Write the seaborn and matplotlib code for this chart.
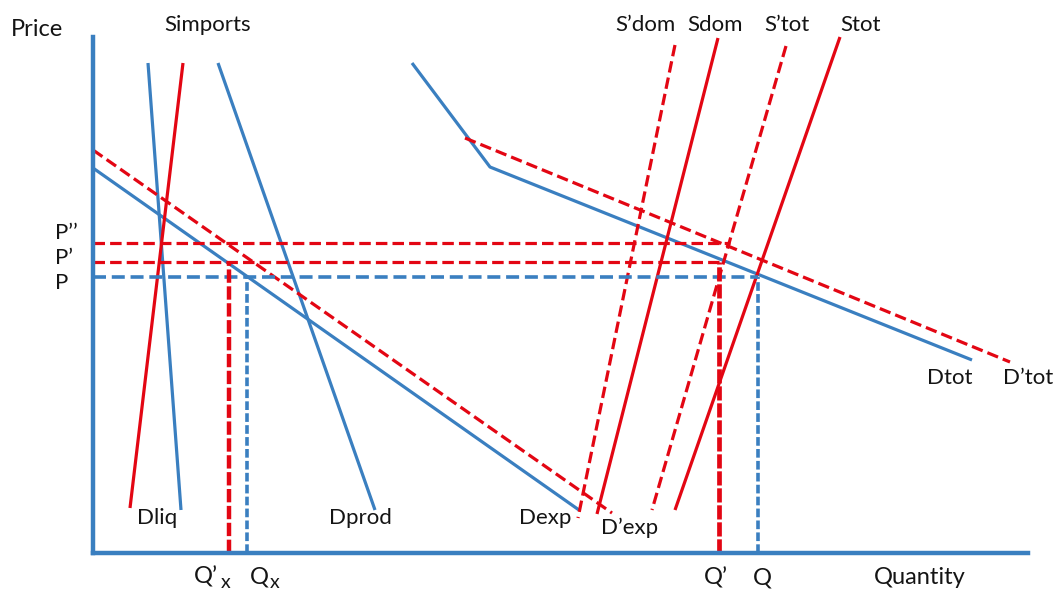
import pandas as pd
import matplotlib
matplotlib.use("Agg")
import matplotlib.pyplot as plt
import seaborn as sns

# curve endpoints in (quantity, price) units, origin at axes corner
dliq_q = [55, 88]
dliq_p = [490, 43]
dprod_q = [125, 282]
dprod_p = [490, 43]
dexp_q = [0, 486]
dexp_p = [385, 43]
dtot_q = [319, 397, 879]
dtot_p = [490, 386, 193]

simp_q = [90, 37]
simp_p = [490, 45]
sdom_q = [625, 504]
sdom_p = [515, 39]
stot_q = [747, 582]
stot_p = [516, 43]

sdom2_q = [582, 485]
sdom2_p = [508, 35]
stot2_q = [693, 559]
stot2_p = [507, 43]
dexp2_q = [0, 519]
dexp2_p = [403, 40]
dtot2_q = [372, 917]
dtot2_p = [415, 191]

# equilibrium levels
price_levels = {"P": 276, "P’": 291, "P’’": 310}
qty_levels = {"Q’x": 136, "Qx": 154, "Q’": 626, "Q": 665}

BLUE = "#3a7fc0"
RED = "#e30613"

sns.set_style("white")
plt.rcParams['font.family'] = ['Lato', 'DejaVu Sans']

fig = plt.figure(figsize=(10.53, 5.90), dpi=100)
ax = fig.add_axes([0, 0, 1, 1])
ax.set_xlim(-93, 960)
ax.set_ylim(-37, 553)


def draw(q, p, color, dashed=False, lw=2.3, dash=(3.6, 1.6)):
    d = pd.DataFrame({"q": q, "p": p})
    line = sns.lineplot(data=d, x="q", y="p", ax=ax, color=color, lw=lw,
                        sort=False, estimator=None)
    l = line.lines[-1]
    if dashed:
        l.set_dashes(dash)
    l.set_solid_capstyle("butt")


# demand curves (blue)
draw(dliq_q, dliq_p, BLUE)
draw(dprod_q, dprod_p, BLUE)
draw(dexp_q, dexp_p, BLUE)
draw(dtot_q, dtot_p, BLUE)

# supply curves (red)
draw(simp_q, simp_p, RED)
draw(sdom_q, sdom_p, RED)
draw(stot_q, stot_p, RED)

# shifted curves (red dashed)
draw(sdom2_q, sdom2_p, RED, dashed=True)
draw(stot2_q, stot2_p, RED, dashed=True)
draw(dexp2_q, dexp2_p, RED, dashed=True)
draw(dtot2_q, dtot2_p, RED, dashed=True)

# price guides
draw([0, 637], [price_levels["P’’"]] * 2, RED, dashed=True)
draw([0, 626], [price_levels["P’"]] * 2, RED, dashed=True)
draw([0, 665], [price_levels["P"]] * 2, BLUE, dashed=True, lw=2.6)

# quantity guides
draw([qty_levels["Q’x"]] * 2, [0, price_levels["P’"]], RED, dashed=True, lw=3.2, dash=(3, 0.8))
draw([qty_levels["Qx"]] * 2, [0, price_levels["P"]], BLUE, dashed=True, lw=2.6, dash=(2.4, 0.9))
draw([qty_levels["Q’"]] * 2, [0, price_levels["P’"]], RED, dashed=True, lw=3.4, dash=(3, 0.6))
draw([qty_levels["Q"]] * 2, [0, price_levels["P"]], BLUE, dashed=True, lw=2.6, dash=(2.4, 0.9))

# axes lines
for s in ["top", "right"]:
    ax.spines[s].set_visible(False)
for s in ["left", "bottom"]:
    ax.spines[s].set_position(("data", 0))
    ax.spines[s].set_color(BLUE)
    ax.spines[s].set_linewidth(3.2)
ax.spines["left"].set_bounds(0, 516)
ax.spines["bottom"].set_bounds(0, 935)
ax.set_xticks([])
ax.set_yticks([])
ax.set_xlabel("")
ax.set_ylabel("")

TXT = "#141414"
fs = 16
big = 17
ax.text(-56, 523, "Price", fontsize=big, color=TXT, ha="center", va="center")
ax.text(827, -25, "Quantity", fontsize=big, color=TXT, ha="center", va="center")
ax.text(115, 528, "Simports", fontsize=fs, color=TXT, ha="center", va="center")
ax.text(552, 528, "S’dom", fontsize=fs, color=TXT, ha="center", va="center")
ax.text(622, 528, "Sdom", fontsize=fs, color=TXT, ha="center", va="center")
ax.text(694, 528, "S’tot", fontsize=fs, color=TXT, ha="center", va="center")
ax.text(768, 528, "Stot", fontsize=fs, color=TXT, ha="center", va="center")
ax.text(-38, 320, "P’’", fontsize=fs, color=TXT, ha="left", va="center")
ax.text(-38, 295, "P’", fontsize=fs, color=TXT, ha="left", va="center")
ax.text(-38, 270, "P", fontsize=fs, color=TXT, ha="left", va="center")
ax.text(857, 175, "Dtot", fontsize=fs, color=TXT, ha="center", va="center")
ax.text(935, 175, "D’tot", fontsize=fs, color=TXT, ha="center", va="center")
ax.text(64, 35, "Dliq", fontsize=fs, color=TXT, ha="center", va="center")
ax.text(267, 35, "Dprod", fontsize=fs, color=TXT, ha="center", va="center")
ax.text(452, 35, "Dexp", fontsize=fs, color=TXT, ha="center", va="center")
ax.text(537, 25, "D’exp", fontsize=fs, color=TXT, ha="center", va="center")
ax.text(113, -24, "Q’", fontsize=big, color=TXT, ha="center", va="center")
ax.text(133, -29, "x", fontsize=14, color=TXT, ha="center", va="center")
ax.text(166, -24, "Q", fontsize=big, color=TXT, ha="center", va="center")
ax.text(182, -29, "x", fontsize=14, color=TXT, ha="center", va="center")
ax.text(623, -25, "Q’", fontsize=big, color=TXT, ha="center", va="center")
ax.text(669, -25, "Q", fontsize=big, color=TXT, ha="center", va="center")

fig.savefig("out.png", dpi=100)
